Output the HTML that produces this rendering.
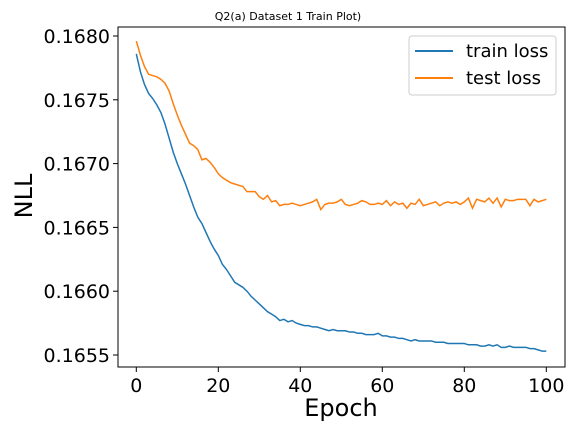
<!DOCTYPE html>
<html><head><meta charset="utf-8"><style>
body{margin:0;background:#fff;}
svg{display:block;font-family:"DejaVu Sans","Liberation Sans",sans-serif;}
</style></head><body>
<svg id="chart" width="576" height="432">
<rect width="576" height="432" fill="#fff"/>
<text x="288" y="20" font-size="11" text-anchor="middle">Q2(a) Dataset 1 Train Plot)</text>
<g id="plot"></g>
<rect x="118" y="27" width="447" height="340" fill="none" stroke="#000" stroke-width="1"/>
<g id="xt"></g><g id="yt"></g>
<text x="341" y="416" font-size="24" text-anchor="middle">Epoch</text>
<text transform="translate(32,196) rotate(-90)" font-size="24" text-anchor="middle">NLL</text>
<g>
<rect x="409" y="36" width="147" height="59" rx="3" fill="#fff" stroke="#ccc"/>
<line x1="415" y1="51" x2="453" y2="51" stroke="#1f77b4" stroke-width="2"/>
<text x="466" y="57" font-size="18">train loss</text>
<line x1="415" y1="78" x2="453" y2="78" stroke="#ff7f0e" stroke-width="2"/>
<text x="466" y="84" font-size="18">test loss</text>
</g>
</svg>
<script>
const xTicks=[0,20,40,60,80,100];
const yTicks=[0.1655,0.1660,0.1665,0.1670,0.1675,0.1680];
const trainLoss=[786,772,762,755,751,746,740,731,720,709,700,692,684,675,666,658,653,646,639,633,628,621,617,612,607,605,603,600,596,593,590,587,584,582,580,577,578,576,577,575,574,573,573,572,572,571,570,569,570,569,569,569,568,568,567,567,566,566,566,567,565,565,564,564,563,563,562,561,562,561,561,561,561,560,560,560,559,559,559,559,559,558,558,558,557,557,558,557,558,556,556,557,556,556,556,556,555,555,554,553,553];
const testLoss=[796,785,776,770,769,768,766,763,757,747,738,730,723,716,714,711,703,704,701,697,692,689,687,685,684,683,682,678,678,678,674,672,675,670,671,667,668,668,669,668,667,668,669,670,672,664,668,669,669,670,672,668,667,668,669,671,670,668,668,669,668,671,667,670,668,669,665,669,668,672,667,668,669,670,667,669,670,669,670,668,670,673,665,672,671,670,673,669,673,666,672,671,671,672,672,672,667,672,670,671,672];
const NS="http://www.w3.org/2000/svg";
function xs(e){return 136.3+e*4.1;}
function ys(v){return 36+(0.1680-v)*127600;}
function val(k){return 0.16+k*1e-5;}
const plot=document.getElementById('plot');
function mk(t,a,p){const el=document.createElementNS(NS,t);for(const k in a)el.setAttribute(k,a[k]);p.appendChild(el);return el;}
function series(arr,color,name){
  const d=arr.map((k,i)=>(i?'L':'M')+xs(i).toFixed(2)+','+ys(val(k)).toFixed(2)).join('');
  const p=mk('path',{d:d,fill:'none',stroke:color,'stroke-width':1.5},plot);
  
  
}
series(trainLoss,'#1f77b4','train-loss-line');
series(testLoss,'#ff7f0e','test-loss-line');
const xt=document.getElementById('xt'),yt=document.getElementById('yt');
xTicks.forEach(t=>{
  const x=xs(t);
  const l=mk('line',{x1:x,x2:x,y1:367,y2:372,stroke:'#000'},xt);
  
  
  const tx=mk('text',{x:x,y:392,'font-size':19,'text-anchor':'middle'},xt);
  tx.textContent=t;
  
  
});
yTicks.forEach(t=>{
  const y=ys(t);
  const l=mk('line',{x1:113,x2:118,y1:y,y2:y,stroke:'#000'},yt);
  
  
  const tx=mk('text',{x:110,y:y+7,'font-size':19,'text-anchor':'end'},yt);
  tx.textContent=t.toFixed(4);
  
  
});
</script>
</body></html>
